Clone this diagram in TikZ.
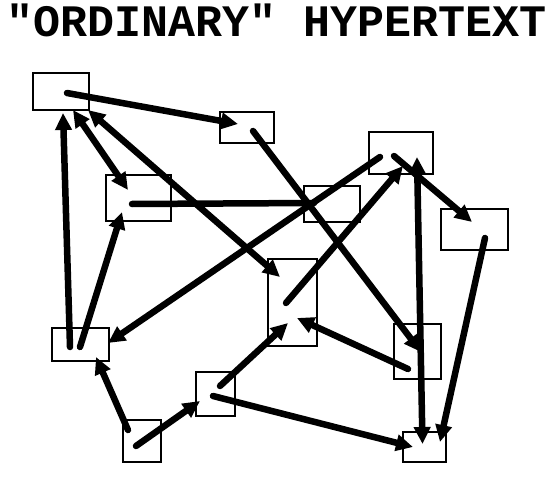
\documentclass[tikz,border=0pt]{standalone}
\usepackage{fontspec}
\newfontfamily\titlefont{Liberation Mono}
\usetikzlibrary{arrows.meta,calc}
\tikzset{
  box/.style={draw, line width=2.8pt, inner sep=0pt, outer sep=0pt},
  link/.style={line width=6.5pt, line cap=round, -{Triangle[length=17pt,width=16pt]}},
  dlink/.style={line width=6.5pt, {Triangle[length=17pt,width=16pt]}-{Triangle[length=17pt,width=16pt]}},
  plainlink/.style={line width=6.5pt, line cap=round},
}
\begin{document}
\begin{tikzpicture}[x=1pt,y=-1pt]
\useasboundingbox (0,0) rectangle (558,479);
\node[anchor=base, inner sep=0pt, font=\titlefont\bfseries\fontsize{45}{45}\selectfont] (title) at (277,37) {"ORDINARY" HYPERTEXT};
% boxes
\node[box, minimum width=56, minimum height=37] (A) at (61,91.5) {};
\node[box, minimum width=54, minimum height=31] (B) at (247,127.5) {};
\node[box, minimum width=65, minimum height=46] (C) at (138.5,198) {};
\node[box, minimum width=64, minimum height=42] (D) at (401,153) {};
\node[box, minimum width=56, minimum height=36] (E) at (332,204) {};
\node[box, minimum width=67, minimum height=41] (F) at (474.5,229.5) {};
\node[box, minimum width=49, minimum height=87] (G) at (292.5,302.5) {};
\node[box, minimum width=57, minimum height=33] (H) at (80.5,344.5) {};
\node[box, minimum width=38, minimum height=42] (I) at (142,441) {};
\node[box, minimum width=39, minimum height=44] (J) at (215.5,394) {};
\node[box, minimum width=47, minimum height=55] (K) at (417.5,351.5) {};
\node[box, minimum width=43, minimum height=30] (L) at (424.5,447) {};
% links
\draw[link] ($(A.center)+(6,1.5)$) -- ($(B.center)+(-9,-3.5)$);
\draw[link] ($(B.center)+(6,3.5)$) -- ($(K.center)+(3.5,0.5)$);
\draw[dlink] ($(A.center)+(12,18.5)$) -- ($(C.center)+(-10.5,-8)$);
\draw[dlink] ($(A.center)+(27,18.5)$) -- ($(G.center)+(-12.5,-25.5)$);
\draw[plainlink] ($(C.center)+(-6.5,6)$) -- ($(E.center)+(-18,-1)$);
\draw[link] ($(D.center)+(-21,4)$) -- ($(H.center)+(27.5,-1.5)$);
\draw[link] ($(G.center)+(-6.5,0.5)$) -- ($(D.center)+(2,13)$);
\draw[link] ($(D.center)+(-7,3)$) -- ($(F.center)+(-2.5,-7.5)$);
\draw[dlink] ($(D.center)+(16,4)$) -- ($(L.center)+(-2,-3)$);
\draw[link] ($(F.center)+(10.5,8.5)$) -- ($(L.center)+(15.5,-5)$);
\draw[link] ($(K.center)+(-9.5,17.5)$) -- ($(G.center)+(4.5,15.5)$);
\draw[link] ($(J.center)+(-2.5,2)$) -- ($(L.center)+(-11.5,0)$);
\draw[link] ($(J.center)+(4.5,-8)$) -- ($(G.center)+(-4.5,20.5)$);
\draw[link] ($(I.center)+(-6,5)$) -- ($(J.center)+(-15.5,7)$);
\draw[link] ($(I.center)+(-14,-11)$) -- ($(H.center)+(15.5,12.5)$);
\draw[link] ($(H.center)+(-10.5,2.5)$) -- ($(A.center)+(2,21.5)$);
\draw[link] ($(H.center)+(-0.5,2.5)$) -- ($(C.center)+(-16.5,14)$);
\end{tikzpicture}
\end{document}
